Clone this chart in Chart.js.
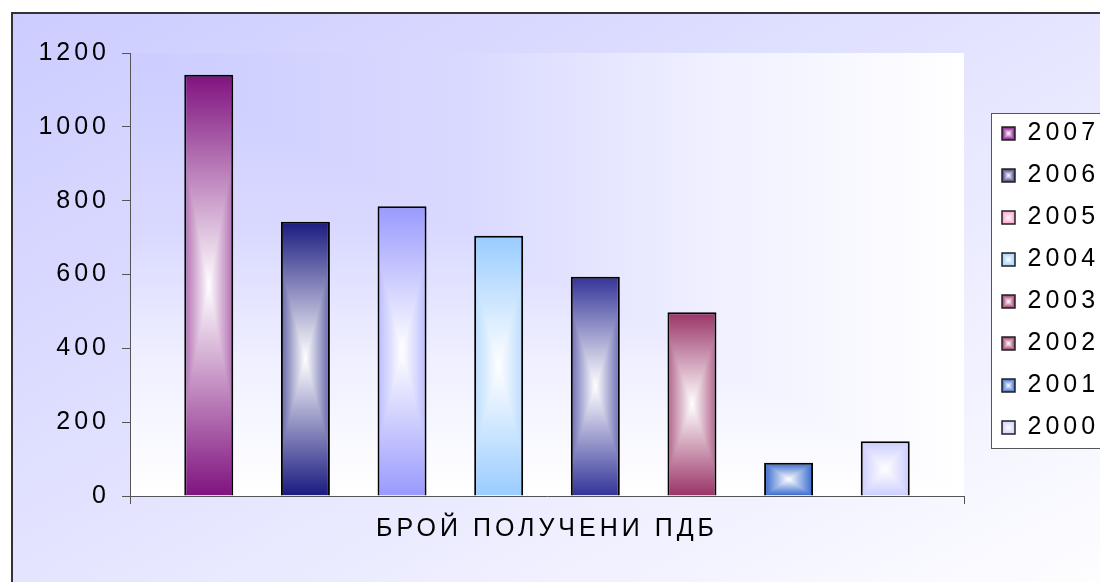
<!DOCTYPE html>
<html lang="bg">
<head>
<meta charset="UTF-8">
<title>БРОЙ ПОЛУЧЕНИ ПДБ</title>
<script src="https://cdn.jsdelivr.net/npm/chart.js"></script>
<style>
  html, body { margin: 0; padding: 0; width: 1100px; height: 582px; overflow: hidden; background: #fff; }
  #fundo {
    position: absolute; left: 11px; top: 12px; width: 1100px; height: 600px;
    border: 2px solid #333;
    background: linear-gradient(to bottom right, #ccccff, #ffffff);
  }
  #caixa { position: absolute; left: 0; top: 0; width: 1100px; height: 582px; }
</style>
</head>
<body>
<div id="fundo"></div>
<div id="caixa"><canvas id="grafico"></canvas></div>

<script>
// dados
const categorias = ['БРОЙ ПОЛУЧЕНИ ПДБ'];
const anos = ['2007', '2006', '2005', '2004', '2003', '2002', '2001', '2000'];
const valores = [1141, 743, 785, 705, 594, 498, 90, 148];
const yTicks = [0, 200, 400, 600, 800, 1000, 1200];

// cor da borda do degradê de cada barra e das caixinhas da legenda
const coresBarras = ['#80127f', '#1a1a80', '#9999ff', '#99ccff', '#333399', '#993366', '#3366cc', '#ccccff'];
const coresLegenda = ['#800080', '#333380', '#ff99cc', '#99ccff', '#993366', '#993366', '#3366cc', '#ccccff'];

Chart.defaults.font.family = '"Liberation Sans", Arial, sans-serif';
Chart.defaults.font.size = 25;
Chart.defaults.color = '#000';

function hexRgb(hex) {
    const n = parseInt(hex.slice(1), 16);
    return [(n >> 16) & 255, (n >> 8) & 255, n & 255];
}

// degradê retangular: cor nas bordas, branco no centro
function degradeCaixa(ctx, cor, w, h) {
    const c = document.createElement('canvas');
    c.width = w;
    c.height = h;
    const g = c.getContext('2d');
    const img = g.createImageData(w, h);
    const rgb = hexRgb(cor);
    const hw = w / 2, hh = h / 2;
    const k = Math.min(1, 0.5 + hw / hh);
    for (let y = 0; y < h; y++) {
        const ty = Math.abs(y + 0.5 - hh) / hh;
        for (let x = 0; x < w; x++) {
            const tx = Math.abs(x + 0.5 - hw) / hw;
            const d = Math.max(ty, tx * k);
            const o = (y * w + x) * 4;
            img.data[o] = 255 + (rgb[0] - 255) * d;
            img.data[o + 1] = 255 + (rgb[1] - 255) * d;
            img.data[o + 2] = 255 + (rgb[2] - 255) * d;
            img.data[o + 3] = 255;
        }
    }
    g.putImageData(img, 0, 0);
    return ctx.createPattern(c, 'no-repeat');
}

function preencherBarra(context) {
    const el = context.element;
    const cor = coresBarras[context.datasetIndex];
    if (!el || !isFinite(el.x) || !isFinite(el.y) || !isFinite(el.base) || !el.width) {
        return cor;
    }
    const w = Math.max(1, Math.ceil(el.width));
    const h = Math.max(1, Math.ceil(Math.abs(el.base - el.y)));
    const pad = degradeCaixa(context.chart.ctx, cor, w, h);
    pad.setTransform(new DOMMatrix([1, 0, 0, 1, el.x - el.width / 2, Math.min(el.y, el.base)]));
    return pad;
}

// fundo da área do gráfico e moldura da legenda
const fundoPlugin = {
    id: 'fundoPlugin',
    beforeUpdate(chart) {
        chart.ctx.letterSpacing = '4px';
    },
    beforeDraw(chart) {
        const ctx = chart.ctx;
        const a = chart.chartArea;
        ctx.save();

        // degradê a partir do canto superior esquerdo
        const paradas = [[0, '#ccccff'], [0.4, '#d9d9ff'], [0.7, '#f0f0ff'], [1, '#ffffff']];
        const gh = ctx.createLinearGradient(a.left, 0, a.right, 0);
        const gv = ctx.createLinearGradient(0, a.top, 0, a.bottom);
        paradas.forEach(function (p) { gh.addColorStop(p[0], p[1]); gv.addColorStop(p[0], p[1]); });
        ctx.fillStyle = gv;
        ctx.fillRect(a.left, a.top, a.width, a.height);
        ctx.beginPath();
        ctx.moveTo(a.left, a.top);
        ctx.lineTo(a.right, a.top);
        ctx.lineTo(a.right, a.bottom);
        ctx.closePath();
        ctx.fillStyle = gh;
        ctx.fill();

        // moldura da legenda
        const leg = chart.legend;
        const hb = leg.legendHitBoxes;
        if (hb && hb.length) {
            const topo = hb[0].top - 8;
            const fim = hb[hb.length - 1].top + hb[hb.length - 1].height + 8;
            ctx.fillStyle = '#ffffff';
            ctx.fillRect(leg.left + 6, topo, 200, fim - topo);
            ctx.strokeStyle = '#555';
            ctx.lineWidth = 1;
            ctx.strokeRect(leg.left + 6.5, topo + 0.5, 200, fim - topo);

            leg.legendItems.forEach(function (item, i) {
                const p = degradeCaixa(ctx, coresLegenda[i], 13, 13);
                p.setTransform(new DOMMatrix([1, 0, 0, 1, hb[i].left, hb[i].top + 6]));
                item.fillStyle = p;
            });
        }
        ctx.restore();
        ctx.letterSpacing = '4px';
    }
};

const datasets = anos.map(function (ano, i) {
    return {
        label: ano,
        data: [valores[i]],
        backgroundColor: preencherBarra,
        borderColor: '#000',
        borderWidth: 2,
        categoryPercentage: 0.927,
        barPercentage: 0.507
    };
});

const grafico = new Chart(document.getElementById('grafico'), {
    type: 'bar',
    data: {
        labels: categorias,
        datasets: datasets
    },
    options: {
        responsive: true,
        maintainAspectRatio: false,
        animation: false,
        layout: {
            padding: { left: 0, top: 53, right: 0, bottom: 28 }
        },
        plugins: {
            tooltip: { enabled: false },
            legend: {
                position: 'right',
                fullSize: false,
                maxWidth: 115,
                title: { display: true, text: '', padding: 0, font: { size: 10 } },
                labels: {
                    boxWidth: 13,
                    boxHeight: 13,
                    padding: 17,
                    color: '#000',
                    font: { size: 25 },
                    generateLabels: function (chart) {
                        return chart.data.datasets.map(function (ds, i) {
                            return {
                                text: ds.label,
                                fillStyle: coresLegenda[i],
                                strokeStyle: '#222',
                                lineWidth: 1.5,
                                hidden: false,
                                datasetIndex: i
                            };
                        });
                    }
                }
            }
        },
        scales: {
            x: {
                grid: { display: true, drawOnChartArea: false, tickLength: 8, color: '#555' },
                border: { display: true, color: '#555', width: 1 },
                ticks: { padding: 10, font: { size: 25 }, color: '#000' }
            },
            y: {
                min: yTicks[0],
                max: yTicks[yTicks.length - 1],
                grid: { display: true, drawOnChartArea: false, tickLength: 8, color: '#555' },
                border: { display: true, color: '#555', width: 1 },
                ticks: {
                    stepSize: yTicks[1] - yTicks[0],
                    padding: 12,
                    font: { size: 25 },
                    color: '#000',
                    callback: function (v) { return String(v); }
                },
                afterFit: function (s) { s.width = 130; }
            },
            folga: {
                type: 'linear',
                position: 'right',
                grid: { display: false },
                border: { display: false },
                ticks: { display: false },
                afterFit: function (s) { s.width = 21; }
            }
        }
    },
    plugins: [fundoPlugin]
});

// segunda passada: as barras já têm posição para montar o degradê
grafico.update();
</script>
</body>
</html>
